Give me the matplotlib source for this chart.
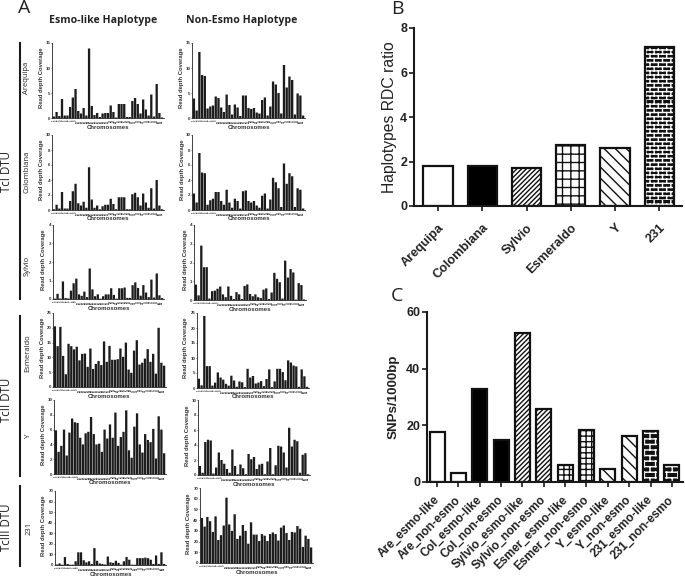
import matplotlib
matplotlib.use("Agg")
import matplotlib.pyplot as plt
import matplotlib.hatch as mhatch
from matplotlib.lines import Line2D
from matplotlib.path import Path
from matplotlib.transforms import ScaledTranslation
import numpy as np

W, H = 685, 577
plt.rcParams['font.family'] = ['Liberation Sans', 'DejaVu Sans']
plt.rcParams['hatch.linewidth'] = 1.0

# ---- data -----
are_esmo = [0.3,1.2,0.4,3.8,0.5,0.5,2.2,4.1,5.8,1.4,0.9,2.0,0.5,13.9,2.4,0.6,1.0,0.2,0.9,1.0,1.0,2.5,1.2,0.1,2.8,2.8,2.8,0.2,0.2,3.4,4.0,2.8,0.9,3.7,1.7,0.5,4.7,0.3,6.8,1.0,0.1]
are_non = [3.9,1.5,13.2,8.6,8.4,1.9,2.3,2.5,4.3,4.0,2.1,1.2,4.7,2.6,0.7,2.7,2.1,0.4,4.5,4.5,2.0,1.8,2.0,1.1,0.9,3.6,4.1,0.5,2.3,7.3,6.7,5.0,0.9,10.6,6.1,8.3,7.6,0.7,4.9,4.5,0.5]
col_esmo = [0.1,0.7,0.2,2.4,0.2,0.2,1.2,2.5,3.5,0.9,0.6,1.1,0.3,5.7,1.4,0.3,0.6,0.1,0.5,0.7,0.7,1.5,0.8,0.1,1.7,1.7,1.7,0.1,0.1,2.1,2.3,1.7,0.6,2.2,1.0,0.3,2.9,0.2,4.0,0.6,0.1]
col_non = [2.2,1.0,7.6,5.0,4.9,0.7,1.3,1.5,2.4,2.4,1.2,0.7,2.7,1.0,0.3,1.5,1.2,0.2,2.5,2.6,1.2,1.0,1.2,0.6,0.3,1.9,2.2,0.2,1.4,4.3,3.7,2.9,0.4,6.2,3.5,4.9,4.5,0.4,2.9,2.7,0.2]
syl_esmo = [0.02,0.28,0.03,0.95,0.05,0.03,0.45,0.85,1.1,0.25,0.17,0.4,0.1,1.65,0.52,0.15,0.25,0.02,0.15,0.25,0.25,0.58,0.22,0.02,0.58,0.58,0.62,0.06,0.06,0.75,0.9,0.6,0.18,0.75,0.35,0.1,1.05,0.08,1.38,0.2,0.05]
syl_non = [0.82,0.25,2.9,1.75,1.75,0.08,0.47,0.5,0.6,0.72,0.3,0.15,0.72,0.22,0.05,0.42,0.3,0.05,0.75,0.83,0.32,0.2,0.3,0.15,0.1,0.55,0.62,0.05,0.4,1.45,1.13,0.95,0.08,2.1,1.2,1.65,1.47,0.02,0.9,0.8,0.03]
esm_esmo = [20.5,13.8,20.3,10.5,4.3,14.6,13.8,12.7,13.6,9,11.2,11.3,6.8,13,6.1,7.8,8.8,7.4,15.4,8.5,13.9,9.2,9.2,9.4,13,10.2,15,5.9,4.8,12.3,15.8,7.6,8.2,9.6,12.8,8.5,11.2,4.5,20,8.2,7.2]
esm_non = [3.1,0.9,24,7.3,7.3,0.8,1.8,5.2,3.5,2.8,1.4,0.8,4.1,2.5,0.4,2.2,1.9,0.3,6.4,3.5,4.0,1.5,1.8,2.3,0.6,3,6.2,0.3,2.2,6.4,6.4,5.3,2.6,9.2,8.5,7.5,7.2,0.4,6.2,3.9,0.4]
y_esmo = [5.9,3,3.8,6,2.5,5.6,7.5,7,6.9,4.9,4,5.5,5.7,7.7,5.4,4,4.1,3,6,4.8,6.7,4.9,8.3,3.8,5,5.7,8.6,3.2,2.2,6.4,8.2,4,2.9,5.4,4.6,4.3,6.1,2.1,7.8,6,2.8]
y_non = [1.2,0.3,4.4,4.7,4.6,0.2,1,3,2,1.5,0.8,0.3,3.4,1.2,0.1,1.4,0.9,0.1,2.8,2.1,2.4,0.8,1.4,1.5,0.1,1.8,3.6,0.1,1.3,3.9,3.8,3.0,1.0,6.3,3.8,4.7,4.5,0.3,2.7,2.9,0.1]
t231_esmo = [0.5,1.5,0.3,7.5,1,0.3,0.3,3.5,12,12,4.5,2.5,3.5,1,16,4,1.5,1,0.5,8,2.5,2,4,2,0.3,3.5,7.5,5,0.3,0.3,6.5,6.5,6.5,7,6.5,5,1,9,1,12,1]
t231_non = [42,34,43,39,29,43.5,21.5,26,35,61,36,30,45.5,22.5,25.5,35.5,30,18,38,26.5,26.5,20.5,27,25.5,20.5,27,28.5,27,21,33,35,28,21.5,29,28.5,34.5,32,15,25.5,22.5,14.5]
chromosomes = [str(i) for i in range(1, 42)]

strains_b = ["Arequipa", "Colombiana", "Sylvio", "Esmeraldo", "Y", "231"]
rdc_ratio = [1.8, 1.8, 1.7, 2.75, 2.6, 7.15]
samples_c = ["Are_esmo-like", "Are_non-esmo", "Col_esmo-like", "Col_non-esmo",
             "Sylvio_esmo-like", "Sylvio_non-esmo", "Esmer_esmo-like", "Esmer_non-esmo",
             "Y_esmo-like", "Y_non-esmo", "231_esmo-like", "231_non-esmo"]
snps = [17.7, 3.3, 33, 14.7, 52.6, 25.6, 5.9, 18.2, 4.5, 16.2, 18.1, 5.9]


class BrickHatch(mhatch.HatchPatternBase):
    def __init__(self, hatch, density):
        self.rows = hatch.count('B') * density
        self.num_vertices = 0
        if self.rows:
            cols = self.rows // 2
            self.num_vertices = 2 * (self.rows + self.rows * cols)

    def set_vertices_and_codes(self, vertices, codes):
        n = self.rows
        if not n:
            return
        cols = n // 2
        k = 0
        for r in range(n):
            y = r / n
            vertices[k] = (0, y); vertices[k + 1] = (1, y)
            codes[k] = Path.MOVETO; codes[k + 1] = Path.LINETO
            k += 2
            for c in range(cols):
                x = (c + (0.5 if r % 2 else 0)) / cols
                vertices[k] = (x, y); vertices[k + 1] = (x, y + 1 / n)
                codes[k] = Path.MOVETO; codes[k + 1] = Path.LINETO
                k += 2


mhatch._hatch_types.append(BrickHatch)

fig = plt.figure(figsize=(W / 100, H / 100), dpi=100, facecolor='white')


def px_axes(left, top, right, bottom):
    return fig.add_axes([left / W, 1 - bottom / H, (right - left) / W, (bottom - top) / H])


def px_text(x, y, s, **kw):
    kw.setdefault('ha', 'center')
    kw.setdefault('va', 'center')
    fig.text(x / W, 1 - y / H, s, **kw)


def px_vline(x, y0, y1, lw=1.5):
    fig.add_artist(Line2D([x / W, x / W], [1 - y0 / H, 1 - y1 / H], color='#1a1a1a', lw=lw,
                          transform=fig.transFigure))


def mini(values, box, ymax, yticks, ylab_x):
    left, top, right, bottom = box
    ax = px_axes(left, top, right, bottom)
    ax.bar(range(len(values)), values, width=0.85, color='#1c1c1c', edgecolor='none', snap=False)
    ax.set_xlim(-0.7, 40.7)
    ax.set_ylim(0, ymax)
    ax.set_xticks(range(41))
    ax.set_xticklabels(chromosomes, fontsize=1.8, rotation=90, color='#333333', fontweight='bold')
    ax.set_yticks(yticks)
    ax.set_yticklabels([str(t) for t in yticks], fontsize=3.2, color='#333333', fontweight='bold')
    ax.tick_params(axis='x', length=0.8, width=0.3, pad=0.4)
    ax.tick_params(axis='y', length=0.8, width=0.4, pad=0.5)
    for s in ('top', 'right'):
        ax.spines[s].set_visible(False)
    for s in ('left', 'bottom'):
        ax.spines[s].set_linewidth(0.6)
        ax.spines[s].set_color('#222222')
    ax.set_ylabel("Read depth Coverage", fontsize=4.2, fontweight='bold', color='#333333')
    ax.yaxis.set_label_coords((ylab_x + 2.5 - left) / (right - left), 0.53)
    ax.set_xlabel("Chromosomes", fontsize=4.3, fontweight='bold', color='#333333')
    ax.xaxis.set_label_coords(0.5, -6.5 / (bottom - top))
    return ax


mini(are_esmo, (52, 43, 164, 118), 15, [0, 5, 10, 15], 41)
mini(are_non, (192, 43, 305, 118), 15, [0, 5, 10, 15], 181)
mini(col_esmo, (52, 135, 164, 210), 10, [0, 2, 4, 6, 8, 10], 41)
mini(col_non, (192, 135, 305, 210), 10, [0, 2, 4, 6, 8, 10], 182)
mini(syl_esmo, (53, 225, 164, 299), 4, [0, 1, 2, 3, 4], 43)
mini(syl_non, (194, 225, 306, 300), 4, [0, 1, 2, 3, 4], 185)
mini(esm_esmo, (53, 313, 166, 387), 25, [0, 5, 10, 15, 20, 25], 42.5)
mini(esm_non, (197, 313, 309, 388), 25, [0, 5, 10, 15, 20, 25], 186)
mini(y_esmo, (54, 400, 166, 474), 10, [0, 2, 4, 6, 8, 10], 43)
mini(y_non, (198, 400, 310, 475), 10, [0, 2, 4, 6, 8, 10], 187)
mini(t231_esmo, (55, 491, 166, 565), 70, [0, 10, 20, 30, 40, 50, 60, 70], 44)
mini(t231_non, (200, 488, 313, 563), 70, [0, 10, 20, 30, 40, 50, 60, 70], 189)

# Panel A annotations
head = dict(family=['Open Sans', 'DejaVu Sans'], fontweight='bold', color='#222222')
px_text(103, 20, "Esmo-like Haplotype", fontsize=7.6, **head)
px_text(242, 20, "Non-Esmo Haplotype", fontsize=7.6, **head)
side = dict(family=['Open Sans', 'DejaVu Sans'], color='#222222', rotation=90)
for txt, x, y in [("Arequipa", 27, 78), ("Colombiana", 27, 172), ("Sylvio", 27, 266),
                  ("Esmeraldo", 28, 353), ("Y", 28, 436), ("231", 29, 528)]:
    px_text(x, y, txt, fontsize=5.5, **side)
for txt, x, y in [("TcI DTU", 7, 172), ("TcII DTU", 7, 400), ("TcIII DTU", 7, 527)]:
    px_text(x, y, txt, fontsize=8.3, **side)
px_vline(19.5, 43, 299)
px_vline(20, 316, 476)
px_vline(20, 486, 566)

letter = dict(family=['Open Sans', 'DejaVu Sans'], color='#222222', fontsize=14)
px_text(24, 8, "A", **letter)
px_text(397, 9, "B", **letter)
px_text(397, 296, "C", **letter)


def style_main(ax, ticklabels, fs, dx_px, pad_px):
    for s in ('top', 'right'):
        ax.spines[s].set_visible(False)
    for s in ('left', 'bottom'):
        ax.spines[s].set_linewidth(1.5)
        ax.spines[s].set_color('#1a1a1a')
    ax.tick_params(axis='both', length=3.5, width=1.2, color='#1a1a1a')
    ax.tick_params(axis='y', labelsize=9, pad=1.5)
    ax.tick_params(axis='x', pad=pad_px * 0.72)
    ax.set_xticks(range(len(ticklabels)))
    ax.set_xticklabels(ticklabels, rotation=45, ha='right', rotation_mode='anchor',
                       fontsize=fs, fontweight='bold', color='#222222')
    shift = ScaledTranslation(dx_px / 100, 0, fig.dpi_scale_trans)
    for t in ax.get_xticklabels():
        t.set_transform(t.get_transform() + shift)
    for t in ax.get_yticklabels():
        t.set_fontweight('bold')
        t.set_color('#222222')


def hatched_bar(ax, x, v, width, hatch, face='white'):
    if hatch and 'B' in hatch:
        ax.bar(x, v, width=width, facecolor='#111111', edgecolor='white', hatch=hatch, linewidth=0)
        ax.bar(x, v, width=width, facecolor='none', edgecolor='#111111', linewidth=1.6)
    else:
        ax.bar(x, v, width=width, facecolor=face, edgecolor='#111111', hatch=hatch, linewidth=1.6)


# Panel B
axb = px_axes(414, 28, 682, 206)
styles_b = [(None, 'white'), (None, '#000000'), ('///////', 'white'), ('++', 'white'),
            ('\\\\\\', 'white'), ('BBBB', 'white')]
for i, (v, (h, f)) in enumerate(zip(rdc_ratio, styles_b)):
    hatched_bar(axb, i, v, 0.66, h, f)
axb.set_xlim(-0.54, 5.51)
axb.set_ylim(0, 8)
axb.set_yticks([0, 2, 4, 6, 8])
style_main(axb, strains_b, 9.1, 0, 11)
axb.set_ylabel("Haplotypes RDC ratio", fontsize=11.3, color='#222222')
axb.yaxis.set_label_coords((397 - 414) / 268, 0.5)

# Panel C
axc = px_axes(427, 312, 683, 482)
styles_c = [(None, 'white'), (None, 'white'), (None, '#000000'), (None, '#000000'),
            ('///////', 'white'), ('///////', 'white'), ('+++', 'white'), ('+++', 'white'),
            ('\\\\\\', 'white'), ('\\\\\\', 'white'), ('BBB', 'white'), ('BBB', 'white')]
for i, (v, (h, f)) in enumerate(zip(snps, styles_c)):
    hatched_bar(axc, i, v, 0.70, h, f)
axc.set_xlim(-0.47, 11.52)
axc.set_ylim(0, 60)
axc.set_yticks([0, 20, 40, 60])
style_main(axc, samples_c, 8.6, -4, 7)
axc.set_ylabel("SNPs/1000bp", fontsize=9.6, fontweight='bold', color='#222222')
axc.yaxis.set_label_coords((400 - 427) / 256, 0.5)

fig.savefig("out.png", dpi=100)
